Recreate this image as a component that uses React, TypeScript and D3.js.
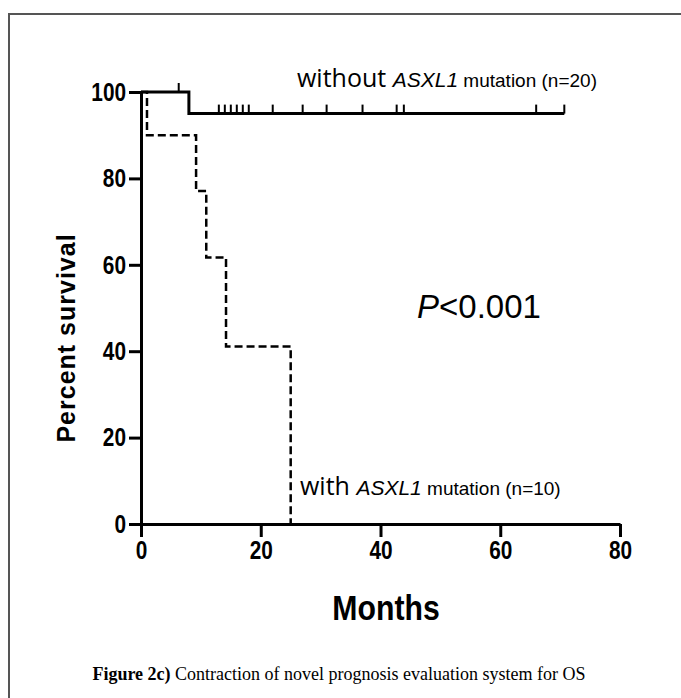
import React, { useRef, useEffect } from 'react';
import * as d3 from 'd3';

// Kaplan-Meier steps (months, % survival)
const withoutTime = [0, 8, 70.7];
const withoutSurv = [100, 95, 95];
const withoutCensor = [6.3, 13, 14, 15, 16, 17, 18, 22, 27, 31, 37, 42.7, 43.9, 66, 70.7];
const withTime = [0, 1, 9.2, 10.9, 14.2, 25];
const withSurv = [100, 90, 77.1, 61.7, 41.1, 0];

const xTicks = [0, 20, 40, 60, 80];
const yTicks = [0, 20, 40, 60, 80, 100];

const W = 681;
const H = 698;
const NARROW = 0.8; // fake a condensed bold face by squeezing horizontally

const App = () => {
  const svgRef = useRef<SVGSVGElement>(null);

  useEffect(() => {
    const svg = d3.select(svgRef.current);
    svg.selectAll('*').remove();

    const x = d3.scaleLinear().domain([0, 80]).range([141, 620]);
    const y = d3.scaleLinear().domain([0, 100]).range([524, 92]);

    // frame
    svg.append('rect')
      .attr('x', 9).attr('y', 14)
      .attr('width', W + 20).attr('height', H + 20)
      .attr('fill', 'none').attr('stroke', '#555').attr('stroke-width', 2);

    const sans = '"Liberation Sans", Arial, sans-serif';

    // y axis
    const yAxis = svg.append('g')
      .attr('transform', `translate(${x(0)},0)`)
      .call(d3.axisLeft(y).tickValues(yTicks).tickSize(12).tickPadding(3).tickSizeOuter(0));
    yAxis.select('.domain').attr('stroke', '#000').attr('stroke-width', 3);
    yAxis.selectAll('.tick line').attr('stroke', '#000').attr('stroke-width', 3);
    yAxis.selectAll('.tick text')
      .attr('fill', '#000')
      .attr('x', -15 / NARROW)
      .attr('transform', `scale(${NARROW},1)`)
      .style('font-family', sans)
      .style('font-weight', 'bold')
      .style('font-size', '26px');

    // x axis
    const xAxis = svg.append('g')
      .attr('transform', `translate(0,${y(0)})`)
      .call(d3.axisBottom(x).tickValues(xTicks).tickSize(13).tickPadding(4).tickSizeOuter(0));
    xAxis.select('.domain').attr('stroke', '#000').attr('stroke-width', 3);
    xAxis.selectAll('.tick line').attr('stroke', '#000').attr('stroke-width', 3);
    xAxis.selectAll('.tick text')
      .attr('fill', '#000')
      .attr('transform', `scale(${NARROW},1)`)
      .style('font-family', sans)
      .style('font-weight', 'bold')
      .style('font-size', '26px');

    const line = d3.line<[number, number]>()
      .x((d) => x(d[0]))
      .y((d) => y(d[1]))
      .curve(d3.curveStepAfter);

    // with ASXL1 (dashed)
    svg.append('path')
      .datum(withTime.map((t, i) => [t, withSurv[i]] as [number, number]))
      .attr('d', line)
      .attr('fill', 'none')
      .attr('stroke', '#000')
      .attr('stroke-width', 2.5)
      .attr('stroke-dasharray', '8,4');

    // without ASXL1 (solid)
    svg.append('path')
      .datum(withoutTime.map((t, i) => [t, withoutSurv[i]] as [number, number]))
      .attr('d', line)
      .attr('fill', 'none')
      .attr('stroke', '#000')
      .attr('stroke-width', 3);

    // censor marks
    const survAt = (t: number) => {
      let s = withoutSurv[0];
      withoutTime.forEach((tt, i) => { if (tt <= t) s = withoutSurv[i]; });
      return s;
    };
    svg.append('g')
      .selectAll('line')
      .data(withoutCensor)
      .enter()
      .append('line')
      .attr('x1', (d) => x(d)).attr('x2', (d) => x(d))
      .attr('y1', (d) => y(survAt(d)) - 9)
      .attr('y2', (d) => y(survAt(d)))
      .attr('stroke', '#000')
      .attr('stroke-width', 2);

    // axis titles
    svg.append('text')
      .attr('transform', `translate(75,338) rotate(-90)`)
      .attr('text-anchor', 'middle')
      .style('font-family', sans)
      .style('font-weight', 'bold')
      .style('font-size', '25px')
      .style('letter-spacing', '1px')
      .text('Percent survival');

    svg.append('text')
      .attr('transform', `translate(386,620) scale(0.84,1)`)
      .attr('text-anchor', 'middle')
      .style('font-family', sans)
      .style('font-weight', 'bold')
      .style('font-size', '36px')
      .text('Months');

    // group labels
    const label = (xPos: number, yPos: number, first: string, n: string) => {
      const t = svg.append('text').attr('x', xPos).attr('y', yPos).attr('fill', '#000');
      t.append('tspan')
        .style('font-family', '"Open Sans", sans-serif')
        .style('font-size', '25px')
        .text(first + ' ');
      t.append('tspan')
        .style('font-family', sans)
        .style('font-style', 'italic')
        .style('font-size', '21px')
        .text('ASXL1');
      t.append('tspan')
        .style('font-family', sans)
        .style('font-size', '19px')
        .text(` mutation (n=${n})`);
    };
    label(297, 87, 'without', '20');
    label(300, 495, 'with', '10');

    // p value
    const p = svg.append('text').attr('x', 417).attr('y', 318)
      .style('font-family', sans)
      .style('font-size', '33px');
    p.append('tspan').style('font-style', 'italic').text('P');
    p.append('tspan').text('<0.001');

    // caption
    const cap = svg.append('text').attr('x', 339).attr('y', 680)
      .attr('text-anchor', 'middle')
      .style('font-family', '"Liberation Serif", "Times New Roman", serif')
      .style('font-size', '18px');
    cap.append('tspan').style('font-weight', 'bold').text('Figure 2c)');
    cap.append('tspan').text(' Contraction of novel prognosis evaluation system for OS');
  }, []);

  return (
    <div style={{ position: 'absolute', left: 0, top: 0 }}>
      <svg ref={svgRef} width={W} height={H} style={{ display: 'block', background: '#fff' }}></svg>
    </div>
  );
};

export default App;
